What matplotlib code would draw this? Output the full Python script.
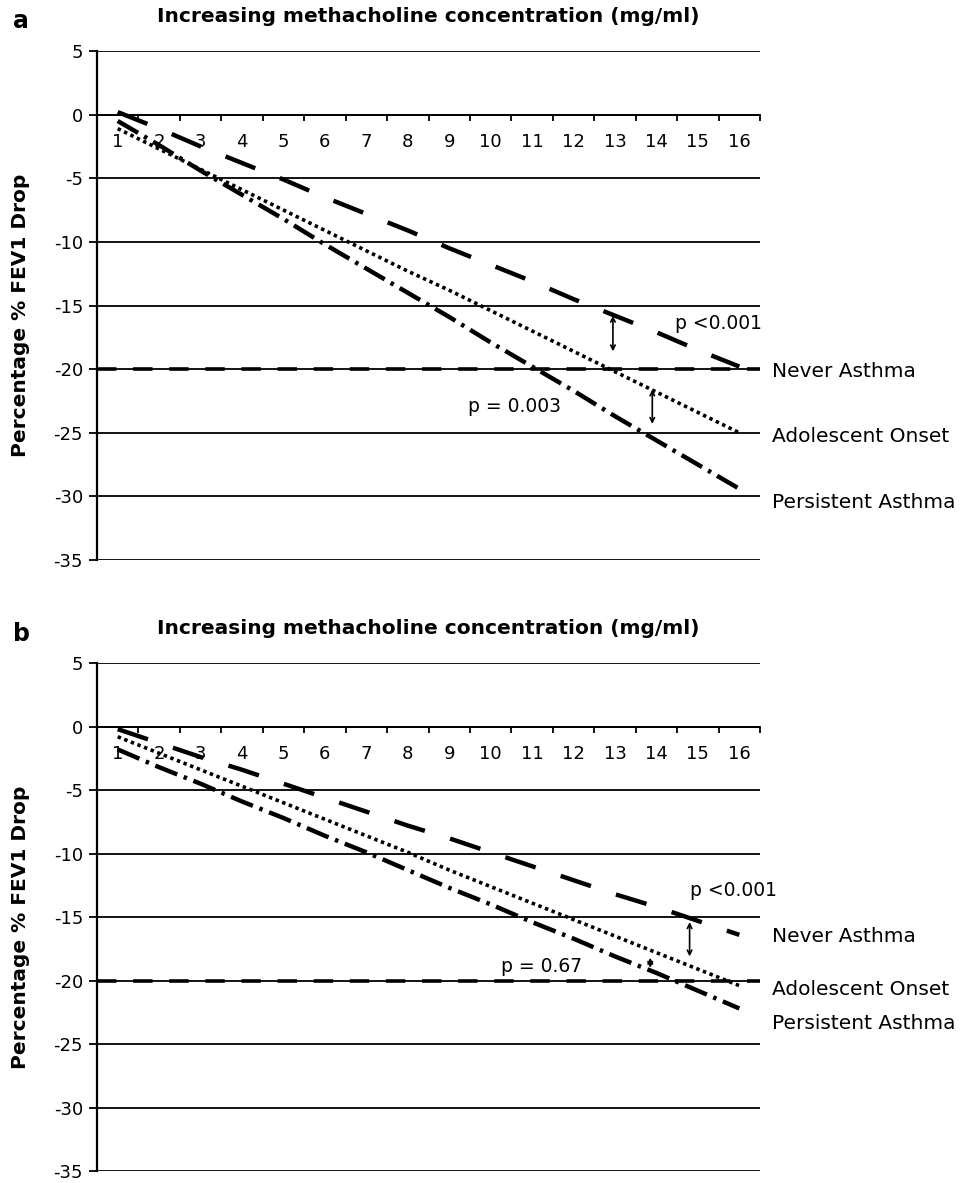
import numpy as np
import matplotlib.pyplot as plt

plt.rcParams['font.family'] = ['DejaVu Sans']
plt.rcParams['lines.scale_dashes'] = False

# methacholine concentration steps
conc = list(range(1, 17))

# panel a, % FEV1 drop
never_a = [0.2, -1.1, -2.5, -3.8, -5.1, -6.5, -7.8, -9.1, -10.5, -11.8, -13.1, -14.5, -15.8, -17.1, -18.5, -19.8]
adol_a = [-1.1, -2.7, -4.3, -5.9, -7.5, -9.1, -10.7, -12.3, -13.8, -15.4, -17.0, -18.6, -20.2, -21.8, -23.4, -25.0]
pers_a = [-0.5, -2.4, -4.4, -6.3, -8.2, -10.2, -12.1, -14.0, -15.9, -17.9, -19.8, -21.7, -23.7, -25.6, -27.5, -29.4]

# panel b
never_b = [-0.2, -1.3, -2.4, -3.4, -4.5, -5.6, -6.7, -7.8, -8.8, -9.9, -11.0, -12.1, -13.2, -14.2, -15.3, -16.4]
adol_b = [-0.8, -2.1, -3.4, -4.7, -6.0, -7.3, -8.6, -9.9, -11.3, -12.6, -13.9, -15.2, -16.5, -17.8, -19.1, -20.4]
pers_b = [-1.8, -3.2, -4.5, -5.9, -7.2, -8.6, -9.9, -11.3, -12.7, -14.0, -15.4, -16.7, -18.1, -19.4, -20.8, -22.2]

threshold = -20
yticks = [5, 0, -5, -10, -15, -20, -25, -30, -35]
group_names = ['Never Asthma', 'Adolescent Onset', 'Persistent Asthma']

fig = plt.figure(figsize=(9.61, 11.83), dpi=100)


def draw_panel(rect, letter, never, adol, pers, label_y, arrows, ptexts):
    ax = fig.add_axes(rect)
    ax.set_xlim(0.5, 16.5)
    ax.set_ylim(-35, 5)

    # gridlines
    for y in yticks:
        ax.axhline(y, color='black', lw=1.3, zorder=1)
    # threshold line
    ax.plot([0.5, 16.5], [threshold, threshold], color='black', lw=2.6,
            dashes=(14, 12), zorder=2)

    ax.plot(conc, never, color='black', lw=3.2, dashes=(23, 19), zorder=3)
    ax.plot(conc, adol, color='black', lw=2.6, dashes=(2.5, 2.6), zorder=3)
    ax.plot(conc, pers, color='black', lw=3.2, dashes=(17, 5, 2.5, 5), zorder=3)

    for sp in ['top', 'right']:
        ax.spines[sp].set_visible(False)
    ax.spines['bottom'].set_position(('data', 0))
    ax.spines['bottom'].set_linewidth(1.3)
    ax.spines['left'].set_linewidth(1.6)

    ax.set_yticks(yticks)
    ax.set_yticklabels([str(v) for v in yticks])
    ax.tick_params(axis='y', length=6, width=1.3, labelsize=13, pad=4)

    ax.set_xticks(conc)
    ax.set_xticklabels([str(c) for c in conc])
    ax.set_xticks(np.arange(0.5, 17, 1), minor=True)
    ax.tick_params(axis='x', which='major', length=0, labelsize=13, pad=13)
    ax.tick_params(axis='x', which='minor', length=4, width=1.3, direction='out')

    ax.set_ylabel('Percentage % FEV1 Drop', fontsize=14.5, fontweight='bold')
    ax.yaxis.set_label_coords(-0.101, 0.48)
    ax.set_title('Increasing methacholine concentration (mg/ml)', fontsize=14.5,
                 fontweight='bold', pad=21)
    ax.text(-0.127, 1.058, letter, transform=ax.transAxes, fontsize=17,
            fontweight='bold', va='center', ha='left')

    for name, y in zip(group_names, label_y):
        ax.text(16.8, y, name, fontsize=14.5, va='center', ha='left', clip_on=False)

    for x, y0, y1 in arrows:
        ax.annotate('', xy=(x, y1), xytext=(x, y0),
                    arrowprops=dict(arrowstyle='<->', lw=1.2, color='black',
                                    shrinkA=0, shrinkB=0, mutation_scale=8))
    for x, y, s in ptexts:
        ax.text(x, y, s, fontsize=13.5, va='center', ha='left')
    return ax


draw_panel([0.1009, 0.5266, 0.690, 0.4303], 'a', never_a, adol_a, pers_a,
           [-20.2, -25.3, -30.5],
           [(12.95, -15.8, -18.6), (13.9, -21.6, -24.3)],
           [(14.45, -16.4, 'p <0.001'), (9.45, -22.9, 'p = 0.003')])

draw_panel([0.1009, 0.0101, 0.690, 0.4294], 'b', never_b, adol_b, pers_b,
           [-16.5, -20.7, -23.4],
           [(14.8, -15.4, -18.1), (13.85, -18.2, -19.0)],
           [(14.8, -12.9, 'p <0.001'), (10.25, -18.9, 'p = 0.67')])

fig.savefig('out.png', dpi=100)
